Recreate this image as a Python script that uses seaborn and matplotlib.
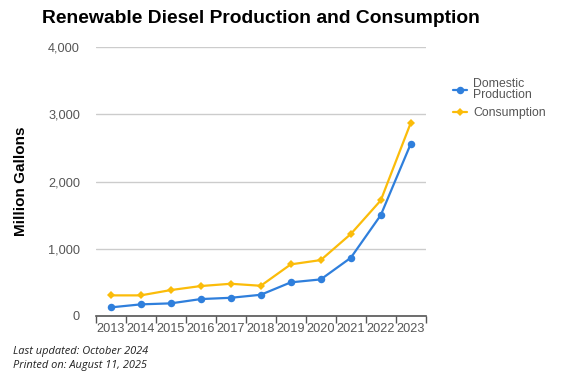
import matplotlib
matplotlib.use("Agg")
import matplotlib.pyplot as plt
import seaborn as sns
import pandas as pd
import numpy as np
from matplotlib.lines import Line2D

years = [2013, 2014, 2015, 2016, 2017, 2018, 2019, 2020, 2021, 2022, 2023]
domestic_production = [125, 170, 185, 249, 268, 313, 498, 542, 864, 1500, 2563]
consumption = [304, 304, 383, 443, 477, 447, 766, 830, 1218, 1720, 2876]
series_names = ["Domestic\nProduction", "Consumption"]
y_ticks = [0, 1000, 2000, 3000, 4000]

sns.set_theme(style="white")
plt.rcParams['font.family'] = ['Liberation Sans', 'DejaVu Sans']

df = pd.DataFrame({
    "Year": years * 2,
    "Value": domestic_production + consumption,
    "Series": [series_names[0]] * len(years) + [series_names[1]] * len(years),
})

blue = "#2f7fdc"
yellow = "#fbbc0a"
circle_ms = 5.4
diamond_ms = 3.8
lw = 1.6

fig = plt.figure(figsize=(5.7, 3.8), dpi=100)
ax = fig.add_axes([0.168, 0.169, 0.579, 0.7065])

sns.lineplot(data=df, x="Year", y="Value", hue="Series", style="Series",
             palette=[blue, yellow], markers=["o", "D"], dashes=False,
             linewidth=lw, markeredgewidth=0, ax=ax, legend=False)
for ln, ms in zip(ax.get_lines(), [circle_ms, diamond_ms]):
    ln.set_markersize(ms)

ax.set_ylim(0, 4000)
ax.set_xlim(years[0] - 0.5, years[-1] + 0.5)
ax.set_yticks(y_ticks)
ax.set_yticklabels([f"{v:,}" for v in y_ticks], color="#555555", fontsize=9.2)
ax.tick_params(axis="y", length=0, pad=11.3)
ax.yaxis.grid(True, color="#cccccc", linewidth=1)
ax.set_axisbelow(True)

bounds = np.arange(years[0] - 0.5, years[-1] + 1.0, 1.0)
ax.set_xticks(bounds)
ax.set_xticklabels([""] * len(bounds))
ax.set_xticks(years, minor=True)
ax.set_xticklabels([str(y) for y in years], minor=True, color="#555555", fontsize=9.2)
ax.tick_params(axis="x", which="major", direction="out", length=5, width=1, color="#555555", bottom=True)
ax.tick_params(axis="x", which="minor", length=0, pad=5.5, bottom=True)

for s in ["left", "right", "top"]:
    ax.spines[s].set_visible(False)
ax.spines["bottom"].set_color("#555555")
ax.spines["bottom"].set_linewidth(1.2)

ax.set_xlabel("")
ax.set_ylabel("Million Gallons", fontsize=11, fontweight="bold", color="black", va="center")
ax.yaxis.set_label_coords(-0.227, 0.5)

fig.text(0.458, 0.952, "Renewable Diesel Production and Consumption",
         ha="center", va="center", fontsize=13.9, fontweight="bold", color="black")

handles = [Line2D([], [], color=blue, marker="o", markersize=circle_ms, lw=lw, markeredgewidth=0),
           Line2D([], [], color=yellow, marker="D", markersize=diamond_ms, lw=lw, markeredgewidth=0)]
leg = fig.legend(handles, series_names, loc="upper left", bbox_to_anchor=(0.794, 0.796),
                 frameon=False, fontsize=8.8, handlelength=1.2, handletextpad=0.5,
                 labelspacing=0.5, borderaxespad=0, borderpad=0)
for t in leg.get_texts():
    t.set_color("#555555")
    t.set_linespacing(0.95)

fig.text(0.022, 0.074, "Last updated: October 2024", fontsize=7.9, style="italic",
         color="#222222", va="center", family=["Open Sans", "DejaVu Sans"])
fig.text(0.022, 0.039, "Printed on: August 11, 2025", fontsize=7.9, style="italic",
         color="#222222", va="center", family=["Open Sans", "DejaVu Sans"])

fig.savefig("out.png", dpi=100)
